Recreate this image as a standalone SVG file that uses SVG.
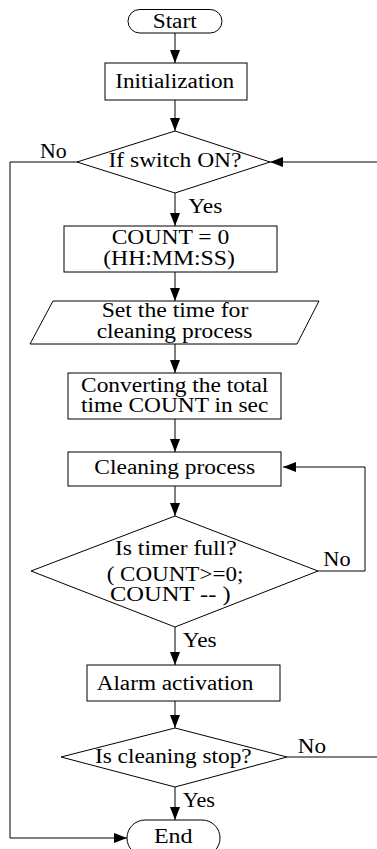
<svg xmlns="http://www.w3.org/2000/svg" width="377" height="849" viewBox="0 0 377 849">
<style>
.s{fill:#fff;stroke:#000;stroke-width:1}
.c{fill:none;stroke:#000;stroke-width:1}
text{font-family:"Liberation Serif","Times New Roman",serif;font-size:20px;fill:#000}
.m{text-anchor:middle}
</style>
<defs>
<marker id="ah" markerUnits="userSpaceOnUse" markerWidth="13" markerHeight="10" refX="13" refY="5" orient="auto">
<path d="M0,0 L13,5 L0,10 z" fill="#000"/>
</marker>
</defs>
<rect width="377" height="849" fill="#fff"/>
<g id="connectors">
<line class="c" x1="175" y1="33" x2="175" y2="63" marker-end="url(#ah)"/>
<line class="c" x1="175" y1="100" x2="175" y2="131" marker-end="url(#ah)"/>
<line class="c" x1="175" y1="193" x2="175" y2="226" marker-end="url(#ah)"/>
<line class="c" x1="175" y1="272" x2="175" y2="301" marker-end="url(#ah)"/>
<line class="c" x1="175" y1="344" x2="175" y2="373" marker-end="url(#ah)"/>
<line class="c" x1="175" y1="419" x2="175" y2="452" marker-end="url(#ah)"/>
<line class="c" x1="175" y1="486" x2="175" y2="516" marker-end="url(#ah)"/>
<line class="c" x1="175" y1="627" x2="175" y2="665" marker-end="url(#ah)"/>
<line class="c" x1="175" y1="701" x2="175" y2="728" marker-end="url(#ah)"/>
<line class="c" x1="175" y1="787" x2="175" y2="820" marker-end="url(#ah)"/>
<polyline class="c" points="77,162 10,162 10,838 127,838" marker-end="url(#ah)"/>
<line class="c" x1="377" y1="162" x2="270" y2="162" marker-end="url(#ah)"/>
<polyline class="c" points="318,571 365,571 365,467 283,467" marker-end="url(#ah)"/>
<line class="c" x1="287" y1="757" x2="377" y2="757"/>
<text x="40" y="158" textLength="26.7" lengthAdjust="spacingAndGlyphs">No</text>
<text x="188.3" y="213" textLength="34" lengthAdjust="spacingAndGlyphs">Yes</text>
<text x="323.3" y="566" textLength="27.3" lengthAdjust="spacingAndGlyphs">No</text>
<text x="182.7" y="647" textLength="34" lengthAdjust="spacingAndGlyphs">Yes</text>
<text x="297.7" y="753" textLength="28.3" lengthAdjust="spacingAndGlyphs">No</text>
<text x="182.7" y="807" textLength="32.3" lengthAdjust="spacingAndGlyphs">Yes</text>
</g>
<g id="start">
<rect class="s" x="128" y="9.5" width="94" height="23.5" rx="11.75"/>
<text class="m" x="174.7" y="28.3" textLength="44" lengthAdjust="spacingAndGlyphs">Start</text>
</g>
<g id="init">
<rect class="s" x="105" y="63" width="142" height="37"/>
<text class="m" x="174.7" y="88" textLength="119" lengthAdjust="spacingAndGlyphs">Initialization</text>
</g>
<g id="switch">
<polygon class="s" points="175,131 270,162 175,193 77,162"/>
<text class="m" x="175" y="167" textLength="133" lengthAdjust="spacingAndGlyphs">If switch ON?</text>
</g>
<g id="count">
<rect class="s" x="64" y="226" width="213" height="46"/>
<text class="m" x="170.5" y="244" textLength="117.7" lengthAdjust="spacingAndGlyphs">COUNT = 0</text>
<text class="m" x="169" y="265" textLength="131.7" lengthAdjust="spacingAndGlyphs">(HH:MM:SS)</text>
</g>
<g id="settime">
<polygon class="s" points="53,301 319,301 297,344 30,344"/>
<text class="m" x="175" y="316.7" textLength="146.7" lengthAdjust="spacingAndGlyphs">Set the time for</text>
<text class="m" x="174.5" y="338.3" textLength="155.7" lengthAdjust="spacingAndGlyphs">cleaning process</text>
</g>
<g id="convert">
<rect class="s" x="68" y="373" width="213" height="46"/>
<text class="m" x="174.7" y="392" textLength="187.3" lengthAdjust="spacingAndGlyphs">Converting the total</text>
<text class="m" x="174.7" y="412.3" textLength="187.3" lengthAdjust="spacingAndGlyphs">time COUNT in sec</text>
</g>
<g id="cleaning">
<rect class="s" x="68" y="452" width="213" height="34"/>
<text class="m" x="174.7" y="474.3" textLength="160.7" lengthAdjust="spacingAndGlyphs">Cleaning process</text>
</g>
<g id="timer">
<polygon class="s" points="175,516 318,571 175,627 31,571"/>
<text class="m" x="175.8" y="554.5" textLength="121.7" lengthAdjust="spacingAndGlyphs">Is timer full?</text>
<text class="m" x="175" y="581" textLength="136.7" lengthAdjust="spacingAndGlyphs">( COUNT&gt;=0;</text>
<text class="m" x="170.3" y="601" textLength="120.7" lengthAdjust="spacingAndGlyphs">COUNT -- )</text>
</g>
<g id="alarm">
<rect class="s" x="87" y="665" width="193" height="36"/>
<text class="m" x="175" y="690" textLength="156.7" lengthAdjust="spacingAndGlyphs">Alarm activation</text>
</g>
<g id="stop">
<polygon class="s" points="175,728 287,757 175,787 61,757"/>
<text class="m" x="173.3" y="763.3" textLength="156.7" lengthAdjust="spacingAndGlyphs">Is cleaning stop?</text>
</g>
<g id="end">
<rect class="s" x="127" y="820" width="93" height="36" rx="18"/>
<text class="m" x="173.3" y="843" textLength="38.7" lengthAdjust="spacingAndGlyphs">End</text>
</g>
</svg>
